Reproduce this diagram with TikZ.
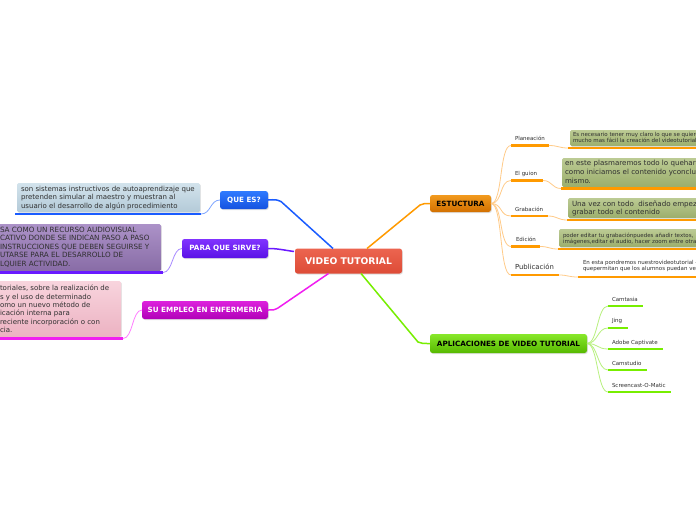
\documentclass[tikz,border=0pt]{standalone}
\usepackage{fontspec}
\setmainfont{DejaVu Sans}
\usetikzlibrary{calc,shadows}
\definecolor{vtTop}{HTML}{EC6450}\definecolor{vtBot}{HTML}{DD4B36}
\definecolor{qeTop}{HTML}{2F7BFF}\definecolor{qeBot}{HTML}{1552E0}
\definecolor{psTop}{HTML}{8133FF}\definecolor{psBot}{HTML}{5A12E6}
\definecolor{seTop}{HTML}{DD22DD}\definecolor{seBot}{HTML}{B000B8}
\definecolor{esTop}{HTML}{F29A1E}\definecolor{esBot}{HTML}{D27000}
\definecolor{apTop}{HTML}{88E82A}\definecolor{apBot}{HTML}{56B800}
\definecolor{qeLine}{HTML}{1A5CFF}\definecolor{qeConn}{HTML}{7FA6FF}
\definecolor{psLine}{HTML}{6A1AFF}\definecolor{psConn}{HTML}{A88AFF}
\definecolor{seLine}{HTML}{F01EF0}\definecolor{seConn}{HTML}{FF80FF}
\definecolor{esLine}{HTML}{FF9A00}\definecolor{esConn}{HTML}{FFCB88}
\definecolor{apLine}{HTML}{77EE00}\definecolor{apConn}{HTML}{B8F07E}
\definecolor{txt}{HTML}{303030}
\definecolor{olTop}{HTML}{BCCB94}\definecolor{olBot}{HTML}{9BAE6C}
\definecolor{qdTop}{HTML}{D2E3EC}\definecolor{qdBot}{HTML}{B4CAD8}
\begin{document}
\begin{tikzpicture}[x=1pt,y=-1pt,
  every node/.style={inner sep=0pt,outer sep=0pt},
  topic/.style={rounded corners=2.5pt,font=\fontsize{7.2}{8}\selectfont\bfseries,
    drop shadow={opacity=0.25,shadow xshift=0.8pt,shadow yshift=-1pt}},
  descbox/.style={rounded corners=1.5pt,drop shadow={opacity=0.2,shadow xshift=0.8pt,shadow yshift=-1pt}},
  desctext/.style={anchor=north west,align=left,text=txt},
  smalllabel/.style={anchor=base west,text=txt,font=\fontsize{5.5}{6}\selectfont},
  uline/.style={line width=2.5pt},
  conn/.style={line width=0.8pt},
  mainconn/.style={line width=1.5pt}
]
\useasboundingbox (0,0) rectangle (696,520);
\fill[white] (0,0) rectangle (696,520);
\clip (0,0) rectangle (696,520);

% ---------- main topics ----------
\node[topic,minimum width=107pt,minimum height=25pt,top color=vtTop,bottom color=vtBot,text=white,
  font=\fontsize{9.2}{10}\selectfont\bfseries] (vt) at (348.5,261) {VIDEO TUTORIAL};
\node[topic,minimum width=48pt,minimum height=18pt,top color=qeTop,bottom color=qeBot,text=white] (qe) at (244,200) {QUE ES?};
\node[topic,minimum width=86pt,minimum height=19pt,top color=psTop,bottom color=psBot,text=white] (ps) at (225,248.5) {PARA QUE SIRVE?};
\node[topic,minimum width=126pt,minimum height=18pt,top color=seTop,bottom color=seBot,text=white] (se) at (205,310) {SU EMPLEO EN ENFERMERIA};
\node[topic,minimum width=61pt,minimum height=17pt,top color=esTop,bottom color=esBot,text=black] (es) at (460.5,203.5) {ESTUCTURA};
\node[topic,minimum width=157pt,minimum height=19pt,top color=apTop,bottom color=apBot,text=black] (ap) at (508.5,343.5) {APLICACIONES DE VIDEO TUTORIAL};

% ---------- central connectors ----------
\draw[mainconn,qeLine] ($(vt.north)+(-15.5,0)$) -- (281,201.5) .. controls (276,199.5) .. (qe.east);
\draw[mainconn,psLine] ($(vt.north west)+(-1,3)$) .. controls (283,250) and (278,248.5) .. (ps.east);
\draw[mainconn,seLine] ($(vt.south)+(-20,0)$) -- (278,308) .. controls (274,310) .. (se.east);
\draw[mainconn,esLine] ($(vt.north)+(18.5,0)$) -- (420,205) .. controls (424,203.5) .. (es.west);
\draw[mainconn,apLine] ($(vt.south)+(12.5,0)$) -- (418,342) .. controls (422,343.5) .. (ap.west);

% ---------- left descriptions ----------
\node[descbox,minimum width=183pt,minimum height=29pt,top color=qdTop,bottom color=qdBot] (qed) at (108.5,197.5) {};
\node[desctext,font=\fontsize{7}{8.5}\selectfont] (qet) at (21,186)
  {son sistemas instructivos de autoaprendizaje que\\pretenden simular al maestro y muestran al\\usuario el desarrollo de algún procedimiento};
\coordinate (qeu0) at (15,214);\coordinate (qeu) at (201,214);
\draw[uline,qeLine] (qeu0) -- (qeu);
\draw[conn,qeConn] (qe.west) .. controls (210,200) and (211,214) .. (qeu);

\node[descbox,minimum width=166pt,minimum height=47pt,top color={rgb,255:red,172;green,146;blue,200},bottom color={rgb,255:red,136;green,108;blue,166}] (psd) at (78,247.5) {};
\node[desctext,font=\fontsize{7.2}{8.5}\selectfont] (pst) at (0,227)
  {SA COMO UN RECURSO AUDIOVISUAL\\CATIVO DONDE SE INDICAN PASO A PASO\\ INSTRUCCIONES QUE DEBEN SEGUIRSE Y\\UTARSE PARA EL DESARROLLO DE\\LQUIER ACTIVIDAD.};
\coordinate (psu0) at (-2,272.5);\coordinate (psu) at (163,272.5);
\draw[uline,psLine] (psu0) -- (psu);
\draw[conn,psConn] (ps.west) .. controls (172,248.5) and (173,272.5) .. (psu);

\node[descbox,minimum width=126pt,minimum height=56pt,top color={rgb,255:red,248;green,212;blue,221},bottom color={rgb,255:red,236;green,178;blue,194}] (sed) at (58,309) {};
\node[desctext,font=\fontsize{7}{8.4}\selectfont] (set) at (0,285)
  {toriales, sobre la realización de\\s y el uso de determinado\\omo un nuevo método de\\icación interna para\\ reciente incorporación o con\\cia.};
\coordinate (seu0) at (-2,338.5);\coordinate (seu) at (123,338.5);
\draw[uline,seLine] (seu0) -- (seu);
\draw[conn,seConn] (se.west) .. controls (132,310) and (133,338.5) .. (seu);

% ---------- ESTUCTURA branch ----------
\node[smalllabel] (pl) at (515,140) {Planeación};
\node[smalllabel] (eg) at (515,175) {El guion};
\node[smalllabel] (gr) at (515,211) {Grabación};
\node[smalllabel] (ed) at (516,241) {Edición};
\node[smalllabel,font=\fontsize{6.9}{7.5}\selectfont] (pu) at (515,269.5) {Publicación};
\coordinate (pl1) at (511,145.5);\coordinate (pl2) at (549,145.5);
\coordinate (eg1) at (511,180.5);\coordinate (eg2) at (543,180.5);
\coordinate (gr1) at (511,216);\coordinate (gr2) at (548,216);
\coordinate (ed1) at (511,246.5);\coordinate (ed2) at (540,246.5);
\coordinate (pu1) at (511,275);\coordinate (pu2) at (559,275);
\foreach \a/\b in {pl1/pl2,eg1/eg2,gr1/gr2,ed1/ed2,pu1/pu2}{\draw[uline,esLine] (\a) -- (\b);}
\foreach \a in {pl1,eg1,gr1,ed1,pu1}{\draw[conn,esConn] (es.east) .. controls ($(es.east)+(12,0)$) and ($(\a)+(-12,0)$) .. (\a);}

% descriptions
\node[descbox,minimum width=130pt,minimum height=16pt,top color=olTop,bottom color=olBot] (pld) at (635,138) {};
\node[desctext,font=\fontsize{5.5}{6}\selectfont] (plt) at (573,132.4)
  {Es necesario tener muy claro lo que se quiere\\mucho mas fácil la creación del videotutorial.};
\coordinate (pld1) at (568,148);\draw[uline,esLine] (pld1) -- (700,148);
\draw[conn,esConn] (pl2) .. controls (558,145.5) and (559,148) .. (pld1);

\node[descbox,minimum width=138pt,minimum height=29pt,top color=olTop,bottom color=olBot] (egd) at (631,172.5) {};
\node[desctext,font=\fontsize{7.1}{9}\selectfont] (egt) at (565,160)
  {en este plasmaremos todo lo queharemos\\como iniciamos el contenido yconclusión\\mismo.};
\coordinate (egd1) at (561,188.5);\draw[uline,esLine] (egd1) -- (700,188.5);
\draw[conn,esConn] (eg2) .. controls (552,180.5) and (552,188.5) .. (egd1);

\node[descbox,minimum width=132pt,minimum height=20pt,top color=olTop,bottom color=olBot] (grd) at (634,208) {};
\node[desctext,font=\fontsize{7.1}{8}\selectfont] (grt) at (572,201)
  {Una vez con todo\ \ diseñado empezamos\\grabar todo el contenido};
\coordinate (grd1) at (567,220);\draw[uline,esLine] (grd1) -- (700,220);
\draw[conn,esConn] (gr2) .. controls (557,216) and (558,220) .. (grd1);

\node[descbox,minimum width=141pt,minimum height=18pt,top color=olTop,bottom color=olBot] (edd) at (629.5,238) {};
\node[desctext,font=\fontsize{5.5}{6}\selectfont] (edt) at (563,232.6)
  {poder editar tu grabaciónpuedes añadir textos, \\imágenes,editar el audio, hacer zoom entre otras};
\coordinate (edd1) at (558,249);\draw[uline,esLine] (edd1) -- (700,249);
\draw[conn,esConn] (ed2) .. controls (549,246.5) and (549,249) .. (edd1);

\node[desctext,font=\fontsize{5.5}{6}\selectfont] (put) at (583,260.6)
  {En esta pondremos nuestrovideotutorial -\\quepermitan que los alumnos puedan verlo};
\coordinate (pud1) at (578,277);\draw[uline,esLine] (pud1) -- (700,277);
\draw[conn,esConn] (pu2) .. controls (568,275) and (568,277) .. (pud1);

% ---------- APLICACIONES branch ----------
\node[smalllabel] (c1) at (612,301) {Camtasia};
\node[smalllabel] (c2) at (612,322) {Jing};
\node[smalllabel] (c3) at (612,344) {Adobe Captivate};
\node[smalllabel] (c4) at (612,365) {Camstudio};
\node[smalllabel] (c5) at (612,387) {Screencast-O-Matic};
\coordinate (a1) at (608,306);\coordinate (b1) at (643,306);
\coordinate (a2) at (608,328);\coordinate (b2) at (628,328);
\coordinate (a3) at (608,349);\coordinate (b3) at (663,349);
\coordinate (a4) at (608,370);\coordinate (b4) at (647,370);
\coordinate (a5) at (608,392);\coordinate (b5) at (671,392);
\foreach \i in {1,...,5}{\draw[uline,apLine] (a\i) -- (b\i);
  \draw[conn,apConn] (ap.east) .. controls ($(ap.east)+(11,0)$) and ($(a\i)+(-11,0)$) .. (a\i);}
\end{tikzpicture}
\end{document}
